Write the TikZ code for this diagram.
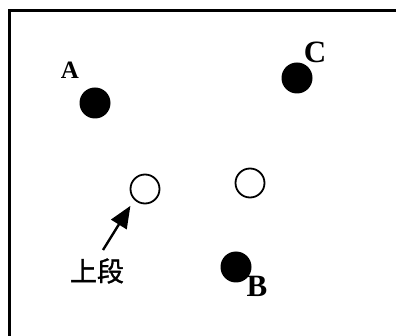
\documentclass[tikz,border=0pt]{standalone}
\usepackage{fontspec}
\setmainfont{Liberation Serif}
\newfontfamily\cjk[FakeBold=1.2]{Noto Sans CJK SC}
\usetikzlibrary{arrows.meta}
\begin{document}
\begin{tikzpicture}[x=1pt,y=-1pt,
  dot/.style={circle,fill=black,minimum size=31pt,inner sep=0pt},
  hole/.style={circle,draw=black,line width=1.8pt,fill=white,minimum size=29pt,inner sep=0pt},
  lbl/.style={inner sep=0pt,font=\bfseries\fontsize{31}{31}\selectfont}]
\useasboundingbox (0,0) rectangle (396,336);
\draw[line width=3pt] (9.5,336) -- (9.5,11) -- (396,11);
\node[dot] (a) at (95,103) {};
\node[dot] (c) at (297,78) {};
\node[dot] (b) at (236,267) {};
\node[hole] (h1) at (145,189) {};
\node[hole] (h2) at (250,183) {};
\node[inner sep=0pt,font=\bfseries\fontsize{25}{25}\selectfont] (la) at (70,70) {A};
\node[lbl] (lc) at (315,52) {C};
\node[lbl] (lb) at (257,286) {B};
\node[inner sep=0pt,font=\cjk\fontsize{27}{27}\selectfont] (up) at (97,271) {上段};
\coordinate (tail) at (103,250);
\draw[line width=2.4pt,shorten >=7pt,-{Triangle[length=22pt,width=18pt]}] (tail) -- (h1.south west);
\end{tikzpicture}
\end{document}
